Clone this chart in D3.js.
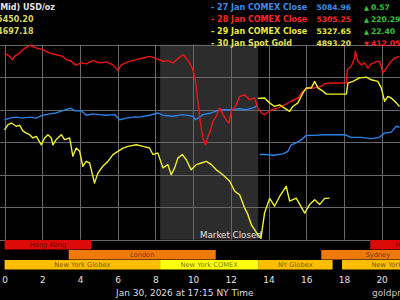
<!DOCTYPE html>
<html>
<head>
<meta charset="utf-8">
<script src="https://cdn.jsdelivr.net/npm/d3@7"></script>
<style>
  html, body { margin: 0; padding: 0; background: #000; overflow: hidden; }
  svg { display: block; font-family: "DejaVu Sans", sans-serif; }
</style>
</head>
<body>
<script>
// hours on the x axis (NY time), price in USD/oz
const hourTicks = [0, 2, 4, 6, 8, 10, 12, 14, 16, 18, 20, 22, 24];
const priceGrid = [4800, 4900, 5000, 5100, 5200, 5300, 5400];
const marketClosed = [8.25, 13.45];

// [hour, price]
const jan27 = [[0,5169],[0.27,5174],[0.62,5177],[0.97,5174],[1.33,5177],[1.68,5174],[2.03,5183],[2.39,5187],[2.74,5190],[3.09,5197],[3.49,5205],[3.71,5197],[4.07,5197],[4.33,5183],[4.68,5187],[5.04,5185],[5.4,5183],[5.84,5185],[6.1,5169],[6.46,5174],[6.9,5178],[7.16,5177],[7.69,5183],[8.13,5190],[8.4,5183],[8.93,5180],[9.46,5185],[9.99,5180],[10.13,5169],[10.34,5177],[10.52,5185],[10.97,5190],[11.41,5200],[11.94,5200],[12.47,5203],[12.82,5200],[13.26,5207],[13.44,5215],[13.48,null],[13.53,5062],[13.79,5062],[14.32,5060],[14.76,5064],[15.03,5072],[15.21,5092],[15.47,5098],[15.74,5108],[16.01,5121],[16.45,5121],[16.89,5123],[18.04,5123],[18.39,5115],[18.92,5115],[19.45,5111],[19.89,5115],[20.16,5128],[20.51,5131],[20.78,5149],[20.95,5146]];

const jan28 = [[0,5374],[0.27,5364],[0.41,5354],[0.53,5364],[0.8,5374],[0.97,5385],[1.33,5398],[1.68,5390],[2.03,5385],[2.39,5374],[2.74,5369],[3.09,5364],[3.27,5354],[3.54,5349],[3.77,5337],[4.07,5344],[4.33,5341],[4.68,5351],[5.04,5344],[5.4,5347],[5.75,5338],[6.01,5321],[6.19,5338],[6.54,5347],[6.99,5354],[7.34,5359],[7.69,5364],[8.05,5357],[8.4,5349],[8.66,5351],[8.93,5344],[9.19,5357],[9.46,5369],[9.64,5359],[9.81,5344],[9.99,5323],[10.13,5287],[10.25,5226],[10.38,5164],[10.52,5113],[10.66,5092],[10.79,5118],[10.91,5134],[11.05,5164],[11.23,5180],[11.41,5205],[11.58,5185],[11.76,5169],[11.9,5159],[12.03,5195],[12.25,5210],[12.47,5241],[12.73,5246],[13,5231],[13.26,5236],[13.44,5205],[13.62,5190],[13.79,5185],[14.15,5200],[14.5,5205],[14.85,5215],[15.21,5226],[15.56,5236],[15.82,5257],[16.09,5267],[16.45,5267],[16.8,5272],[16.98,5280],[17.33,5282],[18.13,5282],[18.18,5323],[18.39,5334],[18.57,5359],[18.6,5380],[18.74,5349],[18.92,5338],[19.1,5344],[19.27,5328],[19.45,5341],[19.72,5347],[19.89,5349],[20.07,5313],[20.25,5328],[20.51,5349],[20.69,5359],[20.95,5364]];

const jan29 = [[13.44,5235],[13.79,5236],[14.06,5221],[14.32,5210],[14.59,5215],[14.85,5205],[15.12,5195],[15.29,5210],[15.56,5221],[15.82,5251],[16.01,5267],[16.27,5267],[16.45,5287],[16.62,5267],[16.89,5257],[17.07,5248],[18.13,5248],[18.21,5282],[18.48,5287],[18.83,5298],[19.19,5300],[19.45,5292],[19.8,5287],[19.98,5267],[20.16,5226],[20.33,5241],[20.51,5236],[20.78,5221],[20.95,5210]];

const jan30 = [[0,5138],[0.18,5154],[0.36,5159],[0.62,5149],[0.8,5152],[0.97,5135],[1.15,5128],[1.33,5123],[1.5,5113],[1.68,5118],[1.95,5092],[2.12,5113],[2.3,5123],[2.48,5113],[2.56,5092],[2.74,5108],[3.01,5123],[3.18,5108],[3.45,5113],[3.62,5057],[3.8,5082],[3.98,5072],[4.15,5026],[4.33,5041],[4.51,5036],[4.77,4974],[4.95,5005],[5.21,5026],[5.48,5041],[5.75,5062],[6.01,5072],[6.28,5082],[6.54,5087],[6.99,5092],[7.34,5087],[7.69,5082],[7.87,5062],[8.13,5067],[8.4,5021],[8.66,5031],[8.84,5000],[9.02,5021],[9.19,5051],[9.43,5062],[9.64,5046],[9.9,5015],[10.17,5031],[10.44,5036],[10.7,5041],[10.97,5031],[11.23,5015],[11.58,5000],[11.94,4980],[12.21,4949],[12.47,4938],[12.73,4898],[12.91,4877],[13.09,4846],[13.26,4831],[13.44,4815],[13.6,4804],[13.79,4882],[14.06,4927],[14.32,4903],[14.59,4933],[14.94,4964],[15.12,4919],[15.47,4928],[15.92,4882],[16.18,4908],[16.45,4923],[16.71,4908],[16.98,4927],[17.24,4928]];

const legendNames = ['27 Jan COMEX Close', '28 Jan COMEX Close', '29 Jan COMEX Close', '30 Jan Spot Gold'];
const legendPrices = ['5084.96', '5305.25', '5327.65', '4893.20'];
const legendChanges = ['0.57', '220.29', '22.40', '412.05'];
const legendUp = [true, true, true, false];

const dayHigh = '5450.20';
const dayLow = '4697.18';

// trading sessions: row 0 = Asia, row 1 = Europe/Pacific, row 2 = New York
const sessionNames = ['Hong Kong', 'Hong Kong', 'London', 'Sydney', 'New York Globex', 'New York COMEX', 'NY Globex', 'New York Globex'];
const sessionRows = [0, 0, 1, 1, 2, 2, 2, 2];
const sessionStart = [0, 19.4, 3.4, 16.8, 0, 8.25, 13.45, 17.9];
const sessionEnd = [4.6, 24, 11.2, 22.8, 8.25, 13.45, 17.4, 24];
const sessionKind = ['asia', 'asia', 'europe', 'europe', 'globex', 'comex', 'globex', 'globex'];

const width = 400, height = 300;
const plot = {top: 44.7, bottom: 239.7, left: 4.6};

const svg = d3.select('body')
    .append('svg')
    .attr('width', width)
    .attr('height', height);

const xScale = d3.scaleLinear()
    .domain([0, 24])
    .range([plot.left, plot.left + 18.85 * 24]);

const yScale = d3.scaleLinear()
    .domain([4800, 5400])
    .range([plot.bottom, plot.top]);

const lineColors = ['#2b82e6', '#f01414', '#f2f224', '#f0f030'];

// market closed shading
svg.append('rect')
    .attr('x', xScale(marketClosed[0]))
    .attr('y', plot.top)
    .attr('width', xScale(marketClosed[1]) - xScale(marketClosed[0]))
    .attr('height', plot.bottom - plot.top)
    .attr('fill', '#2c2c2c');

// grid
svg.append('g')
    .selectAll('line')
    .data(priceGrid)
    .join('line')
    .attr('x1', 0)
    .attr('x2', width)
    .attr('y1', d => Math.round(yScale(d)) + 0.5)
    .attr('y2', d => Math.round(yScale(d)) + 0.5)
    .attr('stroke', '#686868');

svg.append('g')
    .selectAll('line')
    .data(hourTicks)
    .join('line')
    .attr('x1', d => Math.round(xScale(d)) + 0.5)
    .attr('x2', d => Math.round(xScale(d)) + 0.5)
    .attr('y1', plot.top)
    .attr('y2', plot.bottom)
    .attr('stroke', '#686868');

svg.append('text')
    .attr('x', 200)
    .attr('y', 238)
    .attr('fill', '#e0e0e0')
    .attr('font-size', 8.7)
    .text('Market Closed');

// price lines
const line = d3.line()
    .defined(d => d[1] != null)
    .x(d => xScale(d[0]))
    .y(d => yScale(d[1]));

[jan27, jan28, jan29, jan30].forEach((series, i) => {
    svg.append('path')
        .datum(series)
        .attr('fill', 'none')
        .attr('stroke', lineColors[i])
        .attr('stroke-width', 1.4)
        .attr('stroke-linejoin', 'round')
        .attr('d', line);
});

// session bars
const sessionColors = {asia: '#dd0a0a', europe: '#ef7a0a', globex: '#ffbf00', comex: '#ffff10'};
const sessions = sessionNames.map((name, i) => ({
    name: name,
    row: sessionRows[i],
    from: sessionStart[i],
    to: sessionEnd[i],
    kind: sessionKind[i]
}));

const bars = svg.append('g')
    .selectAll('g')
    .data(sessions)
    .join('g');

bars.append('rect')
    .attr('x', d => xScale(d.from))
    .attr('y', d => 240 + d.row * 10)
    .attr('width', d => xScale(d.to) - xScale(d.from))
    .attr('height', 9.5)
    .attr('fill', d => sessionColors[d.kind]);

bars.append('text')
    .attr('x', d => (xScale(d.from) + xScale(d.to)) / 2)
    .attr('y', d => 240 + d.row * 10 + 7.2)
    .attr('text-anchor', 'middle')
    .attr('font-size', 6.7)
    .attr('fill', 'rgba(0,0,0,0.6)')
    .text(d => d.name);

// x axis
const xAxis = d3.axisBottom(xScale)
    .tickValues(hourTicks)
    .tickSize(0)
    .tickPadding(7);

svg.append('g')
    .attr('class', 'axis x-axis')
    .attr('transform', 'translate(0,270)')
    .call(xAxis)
    .call(g => g.select('.domain').remove())
    .call(g => g.selectAll('text')
        .attr('fill', '#e0e0e0')
        .attr('font-size', 9)
        .attr('font-family', '"DejaVu Sans", sans-serif'));

svg.append('text')
    .attr('x', 116)
    .attr('y', 296)
    .attr('fill', '#dddddd')
    .attr('font-size', 9)
    .text('Jan 30, 2026 at 17:15 NY Time');

svg.append('text')
    .attr('x', 372)
    .attr('y', 296)
    .attr('fill', '#cccccc')
    .attr('font-size', 9)
    .text('goldprice.org');

// header, top left
svg.append('text')
    .attr('x', 55)
    .attr('y', 9.5)
    .attr('text-anchor', 'end')
    .attr('fill', '#e6e6e6')
    .attr('font-size', 8)
    .attr('font-weight', 'bold')
    .text('(Mid) USD/oz');

[dayHigh, dayLow].forEach((v, i) => {
    svg.append('text')
        .attr('x', 33.5)
        .attr('y', 21.7 + i * 11.8)
        .attr('text-anchor', 'end')
        .attr('fill', '#d8d85a')
        .attr('font-size', 8)
        .attr('font-weight', 'bold')
        .text(v);
});

// legend, top right
const legendTextColors = ['#3a8ee8', '#ff2424', '#eaea3c', '#e2e256'];
const legend = svg.append('g')
    .attr('font-weight', 'bold');

legendNames.forEach((name, i) => {
    const y = 9.5 + i * 12;
    legend.append('text')
        .attr('x', 211)
        .attr('y', y)
        .attr('fill', legendTextColors[i])
        .attr('font-size', 8)
        .text('- ' + name);
    legend.append('text')
        .attr('x', 351)
        .attr('y', y)
        .attr('text-anchor', 'end')
        .attr('fill', legendTextColors[i])
        .attr('font-size', 7.6)
        .text(legendPrices[i]);
    legend.append('text')
        .attr('x', 364)
        .attr('y', y)
        .attr('fill', legendUp[i] ? '#2ec82e' : '#ff2020')
        .attr('font-size', 6.5)
        .text(legendUp[i] ? '▲' : '▼');
    legend.append('text')
        .attr('x', 371)
        .attr('y', y)
        .attr('fill', legendUp[i] ? '#2ec82e' : '#ff2020')
        .attr('font-size', 7.6)
        .text(legendChanges[i]);
});
</script>
</body>
</html>
